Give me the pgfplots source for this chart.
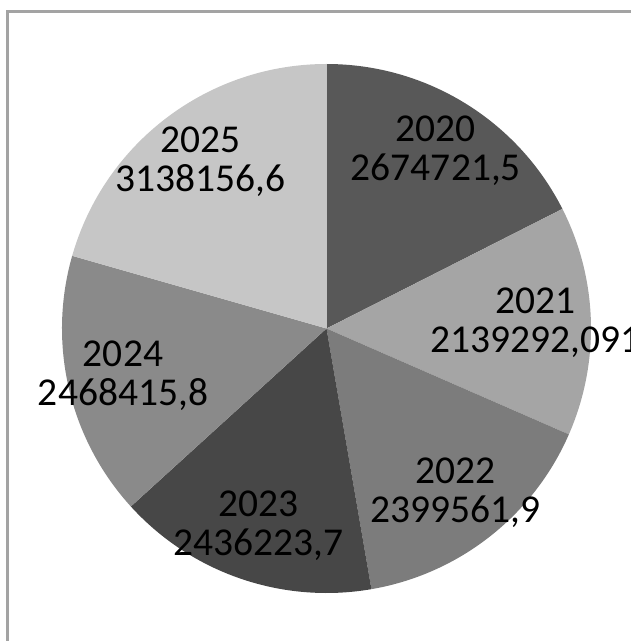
\documentclass[border=0pt]{standalone}
\usepackage{pgfplots}
\pgfplotsset{compat=1.18}
\usepackage{pgfplotstable}
\usepackage{fontspec}
\setmainfont{Carlito}

\definecolor{g2020}{HTML}{585858}
\definecolor{g2021}{HTML}{A5A5A5}
\definecolor{g2022}{HTML}{7C7C7C}
\definecolor{g2023}{HTML}{474747}
\definecolor{g2024}{HTML}{8A8A8A}
\definecolor{g2025}{HTML}{C6C6C6}
\definecolor{framegrey}{HTML}{A3A3A3}

\pgfplotstableread{
year value       colour
2020 2674721.5   g2020
2021 2139292.091 g2021
2022 2399561.9   g2022
2023 2436223.7   g2023
2024 2468415.8   g2024
2025 3138156.6   g2025
}\piedata

% sum of all slices
\def\total{0}
\pgfplotstableforeachcolumnelement{value}\of\piedata\as\v{\xdef\total{\fpeval{\total+\v}}}
\pgfplotstablegetrowsof{\piedata}
\pgfmathtruncatemacro\lastrow{\pgfplotsretval-1}

% 2674721.5 -> 2674721,5
\def\dotcomma#1.#2\relax{#1,#2}

\def\cx{326.5}
\def\cy{312.5}
\def\R{264.5}
\def\labr{209}

\begin{document}
\begin{tikzpicture}
\path[use as bounding box, clip] (0,0) rectangle (631pt,641pt);
\begin{axis}[
    x=1pt, y=1pt,
    xmin=0, xmax=631, ymin=0, ymax=641,
    hide axis, clip=false,
]
\pgfplotsextra{
  \edef\startangle{90}
  \pgfplotsforeachungrouped \i in {0,...,\lastrow}{
    \pgfplotstablegetelem{\i}{value}\of\piedata \let\val\pgfplotsretval
    \pgfplotstablegetelem{\i}{year}\of\piedata \let\yr\pgfplotsretval
    \pgfplotstablegetelem{\i}{colour}\of\piedata \let\col\pgfplotsretval
    \edef\endangle{\fpeval{\startangle - 360*\val/\total}}
    \edef\midangle{\fpeval{(\startangle+\endangle)/2}}
    \edef\sx{\fpeval{\cx+\R*cosd(\startangle)}}
    \edef\sy{\fpeval{\cy+\R*sind(\startangle)}}
    \edef\lx{\fpeval{\cx+\labr*cosd(\midangle)}}
    \edef\ly{\fpeval{\cy+\labr*sind(\midangle)}}
    \fill[\col] (axis cs:\cx,\cy) -- (axis cs:\sx,\sy)
        arc[start angle=\startangle, end angle=\endangle, radius=\R pt] -- cycle;
    \node[align=center, inner sep=0pt, font=\fontsize{39.5}{39}\selectfont]
        at (axis cs:\lx,\ly) {\yr\\\expandafter\dotcomma\val\relax};
    \global\let\startangle\endangle
  }
  \draw[framegrey, line width=3pt] (axis cs:7.5,-20) -- (axis cs:7.5,629.5) -- (axis cs:660,629.5);
}
\end{axis}
\end{tikzpicture}
\end{document}
